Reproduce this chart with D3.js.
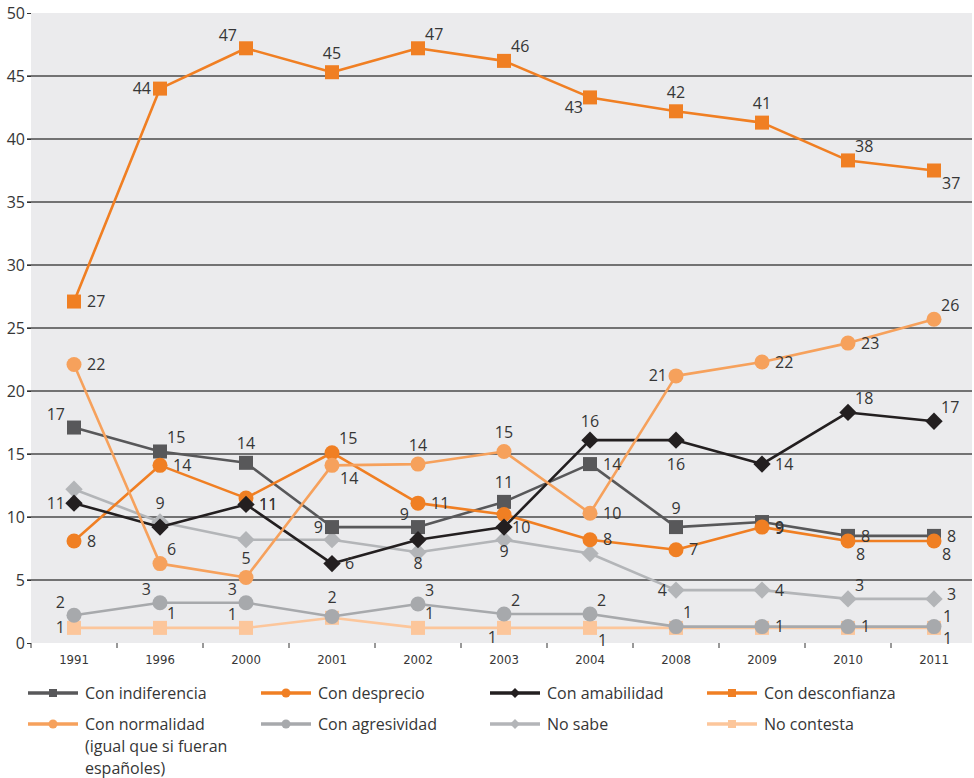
<!DOCTYPE html>
<html>
<head>
<meta charset="utf-8">
<script src="https://cdn.jsdelivr.net/npm/d3@7"></script>
<style>
  html, body { margin: 0; padding: 0; background: #ffffff; }
  svg { display: block; }
</style>
</head>
<body>
<svg id="chart" width="974" height="778"></svg>
<script>
// ---------- DATA ----------
const years = ["1991","1996","2000","2001","2002","2003","2004","2008","2009","2010","2011"];
const yTicks = [0,5,10,15,20,25,30,35,40,45,50];

const seriesNames = ["Con indiferencia","Con desprecio","Con amabilidad","Con desconfianza",
                     "Con normalidad (igual que si fueran españoles)","Con agresividad","No sabe","No contesta"];

const conIndiferencia  = [17.1, 15.2, 14.3, 9.2, 9.2, 11.2, 14.2, 9.2, 9.6, 8.5, 8.5];
const conDesprecio     = [8.1, 14.1, 11.5, 15.1, 11.1, 10.2, 8.2, 7.4, 9.2, 8.1, 8.1];
const conAmabilidad    = [11.1, 9.2, 11.0, 6.3, 8.2, 9.2, 16.1, 16.1, 14.2, 18.3, 17.6];
const conDesconfianza  = [27.1, 44.0, 47.2, 45.3, 47.2, 46.2, 43.3, 42.2, 41.3, 38.3, 37.5];
const conNormalidad    = [22.1, 6.3, 5.2, 14.1, 14.2, 15.2, 10.3, 21.2, 22.3, 23.8, 25.7];
const conAgresividad   = [2.2, 3.2, 3.2, 2.1, 3.1, 2.3, 2.3, 1.3, 1.3, 1.3, 1.3];
const noSabe           = [12.2, 9.6, 8.2, 8.2, 7.2, 8.2, 7.1, 4.2, 4.2, 3.5, 3.5];
const noContesta       = [1.2, 1.2, 1.2, 2.0, 1.2, 1.2, 1.2, 1.2, 1.2, 1.2, 1.2];

// printed value labels (null = no label shown)
const lblIndiferencia = [17,15,14,9,9,11,14,9,9,8,8];
const lblDesprecio    = [8,14,11,15,11,10,8,7,9,8,8];
const lblAmabilidad   = [11,null,11,6,8,9,16,16,14,18,17];
const lblDesconfianza = [27,44,47,45,47,46,43,42,41,38,37];
const lblNormalidad   = [22,6,5,14,14,15,10,21,22,23,26];
const lblAgresividad  = [2,3,3,2,3,2,2,1,1,1,1];
const lblNoSabe       = [null,9,null,null,null,null,null,4,4,3,3];
const lblNoContesta   = [1,1,1,null,1,1,1,null,null,null,1];

// ---------- LAYOUT / STYLE ----------
// label placement codes (relative to each point)
const plIndiferencia = ["la","ra","a","l","la","a","r","a","rd","r","r"];
const plDesprecio    = ["r","r","rd","ra","r","rb","r","r","r","rb","rb"];
const plAmabilidad   = ["l",null,"r","r","b","b","a","b","r","ra","ra"];
const plDesconfianza = ["r","l","la","a","ra","ra","lb","a","a","ra","rb"];
const plNormalidad   = ["r","ra","a","rb","a","a","r","l","r","r","ra"];
const plAgresividad  = ["la","la","la","a","ra","ra","ra","ra","r","r","rs"];
const plNoSabe       = [null,"a",null,null,null,null,null,"l","r","ra","ru"];
const plNoContesta   = ["l","ra","la",null,"ra","lb","rb",null,null,null,"rc"];

const place = {
  r:  {anchor:"start",  dx: 13, dy: 0},
  rd: {anchor:"start",  dx: 13, dy: 6},
  ru: {anchor:"start",  dx: 13, dy: -5},
  rs: {anchor:"start",  dx: 9,  dy: -10},
  rc: {anchor:"start",  dx: 9,  dy: 11},
  ra: {anchor:"start",  dx: 7,  dy: -14},
  rb: {anchor:"start",  dx: 8,  dy: 13},
  l:  {anchor:"end",    dx: -9, dy: 0},
  la: {anchor:"end",    dx: -9, dy: -13},
  lb: {anchor:"end",    dx: -7, dy: 10},
  a:  {anchor:"middle", dx: 0,  dy: -19},
  b:  {anchor:"middle", dx: 0,  dy: 24}
};

const series = [
  {name: seriesNames[0], values: conIndiferencia, labels: lblIndiferencia, pl: plIndiferencia, color:"#58585a", marker:"square"},
  {name: seriesNames[1], values: conDesprecio,    labels: lblDesprecio,    pl: plDesprecio,    color:"#f07f23", marker:"circle"},
  {name: seriesNames[2], values: conAmabilidad,   labels: lblAmabilidad,   pl: plAmabilidad,   color:"#231f20", marker:"diamond"},
  {name: seriesNames[3], values: conDesconfianza, labels: lblDesconfianza, pl: plDesconfianza, color:"#f07f23", marker:"square"},
  {name: seriesNames[4], values: conNormalidad,   labels: lblNormalidad,   pl: plNormalidad,   color:"#f6a15c", marker:"circle"},
  {name: seriesNames[5], values: conAgresividad,  labels: lblAgresividad,  pl: plAgresividad,  color:"#a7a9ac", marker:"circle"},
  {name: seriesNames[6], values: noSabe,          labels: lblNoSabe,       pl: plNoSabe,       color:"#b3b5b8", marker:"diamond"},
  {name: seriesNames[7], values: noContesta,      labels: lblNoContesta,   pl: plNoContesta,   color:"#fcc69b", marker:"square"}
];
// drawing order (back to front)
const drawOrder = [7,5,6,0,1,2,4,3];

const plot = {left: 31, right: 977, top: 13, bottom: 643, bgRight: 972};

const svg = d3.select("#chart");
const x = d3.scaleBand().domain(years).range([plot.left, plot.right]).padding(0);
const y = d3.scaleLinear().domain([0, 50]).range([plot.bottom, plot.top]);
const cx = d => x(d) + x.bandwidth() / 2;

const numFont = "'Open Sans', 'DejaVu Sans', sans-serif";
const textColor = "#363636";

// background
svg.append("rect")
  .attr("x", plot.left).attr("y", plot.top)
  .attr("width", plot.bgRight - plot.left).attr("height", plot.bottom - plot.top)
  .attr("fill", "#ebebed");

// gridlines
svg.append("g").selectAll("line")
  .data(yTicks.filter(t => t > 0 && t < 50))
  .join("line")
  .attr("x1", plot.left - 4).attr("x2", plot.bgRight)
  .attr("y1", d => y(d)).attr("y2", d => y(d))
  .attr("stroke", "#4a4a4a").attr("stroke-width", 1.4);

// y axis (ticks + labels)
const yAxis = d3.axisLeft(y).tickValues(yTicks).tickSize(4).tickPadding(2);
const gy = svg.append("g").attr("transform", `translate(${plot.left},0)`).call(yAxis);
gy.select(".domain").remove();
gy.selectAll(".tick line").attr("stroke", "#333").attr("stroke-width", 1);
gy.selectAll(".tick text")
  .attr("font-family", numFont).attr("font-size", 16).attr("fill", textColor);

// x axis
const xAxis = d3.axisBottom(x).tickSize(0).tickPadding(12);
const gx = svg.append("g").attr("transform", `translate(0,${plot.bottom})`).call(xAxis);
gx.select(".domain").remove();
gx.selectAll(".tick text")
  .attr("font-family", "'Liberation Sans Narrow', 'DejaVu Sans Condensed', sans-serif")
  .attr("font-size", 13).attr("fill", textColor);
// tick marks at band boundaries
svg.append("g").selectAll("line")
  .data(years)
  .join("line")
  .attr("x1", d => x(d)).attr("x2", d => x(d))
  .attr("y1", plot.bottom).attr("y2", plot.bottom + 5)
  .attr("stroke", "#333").attr("stroke-width", 1);

// marker drawing helper
function drawMarker(g, type, px, py, size, color) {
  if (type === "square") {
    g.append("rect").attr("x", px - size/2).attr("y", py - size/2)
      .attr("width", size).attr("height", size).attr("fill", color);
  } else if (type === "circle") {
    g.append("circle").attr("cx", px).attr("cy", py).attr("r", size/2).attr("fill", color);
  } else {
    const h = size * 0.62;
    g.append("path")
      .attr("d", `M${px},${py-h}L${px+h},${py}L${px},${py+h}L${px-h},${py}Z`)
      .attr("fill", color);
  }
}

const line = d3.line().x((d, i) => cx(years[i])).y(d => y(d));

const linesG = svg.append("g");
drawOrder.forEach(si => {
  const s = series[si];
  const g = linesG.append("g");
  g.append("path").datum(s.values)
    .attr("d", line).attr("fill", "none")
    .attr("stroke", s.color).attr("stroke-width", 2.6).attr("stroke-linejoin", "round");
  s.values.forEach((v, i) => {
    const size = s.marker === "square" ? 14 : (s.marker === "circle" ? 15 : 14);
    drawMarker(g, s.marker, cx(years[i]), y(v), size, s.color);
  });
});

// value labels
const labG = svg.append("g");
series.forEach(s => {
  s.values.forEach((v, i) => {
    const lab = s.labels[i];
    const code = s.pl[i];
    if (lab === null || code === null) return;
    const p = place[code];
    labG.append("text")
      .attr("x", cx(years[i]) + p.dx)
      .attr("y", y(v) + p.dy)
      .attr("dy", "0.35em")
      .attr("text-anchor", p.anchor)
      .attr("font-family", numFont).attr("font-size", 16)
      .attr("fill", textColor)
      .text(lab);
  });
});

// legend
const legendCols = [28, 261, 490, 707];
const legendRows = [693, 724];
const legG = svg.append("g");
series.forEach((s, i) => {
  const lx = legendCols[i % 4];
  const ly = legendRows[Math.floor(i / 4)];
  const g = legG.append("g");
  g.append("line").attr("x1", lx).attr("x2", lx + 50).attr("y1", ly).attr("y2", ly)
    .attr("stroke", s.color).attr("stroke-width", 3.5);
  drawMarker(g, s.marker, lx + 25, ly, s.marker === "circle" ? 9 : 8, s.color);
  const lines = i === 4 ? ["Con normalidad", "(igual que si fueran", "españoles)"] : [s.name];
  lines.forEach((t, k) => {
    g.append("text")
      .attr("x", lx + 57).attr("y", ly + k * 22).attr("dy", "0.35em")
      .attr("font-family", numFont).attr("font-size", 16).attr("fill", textColor)
      .text(t);
  });
});
</script>
</body>
</html>
